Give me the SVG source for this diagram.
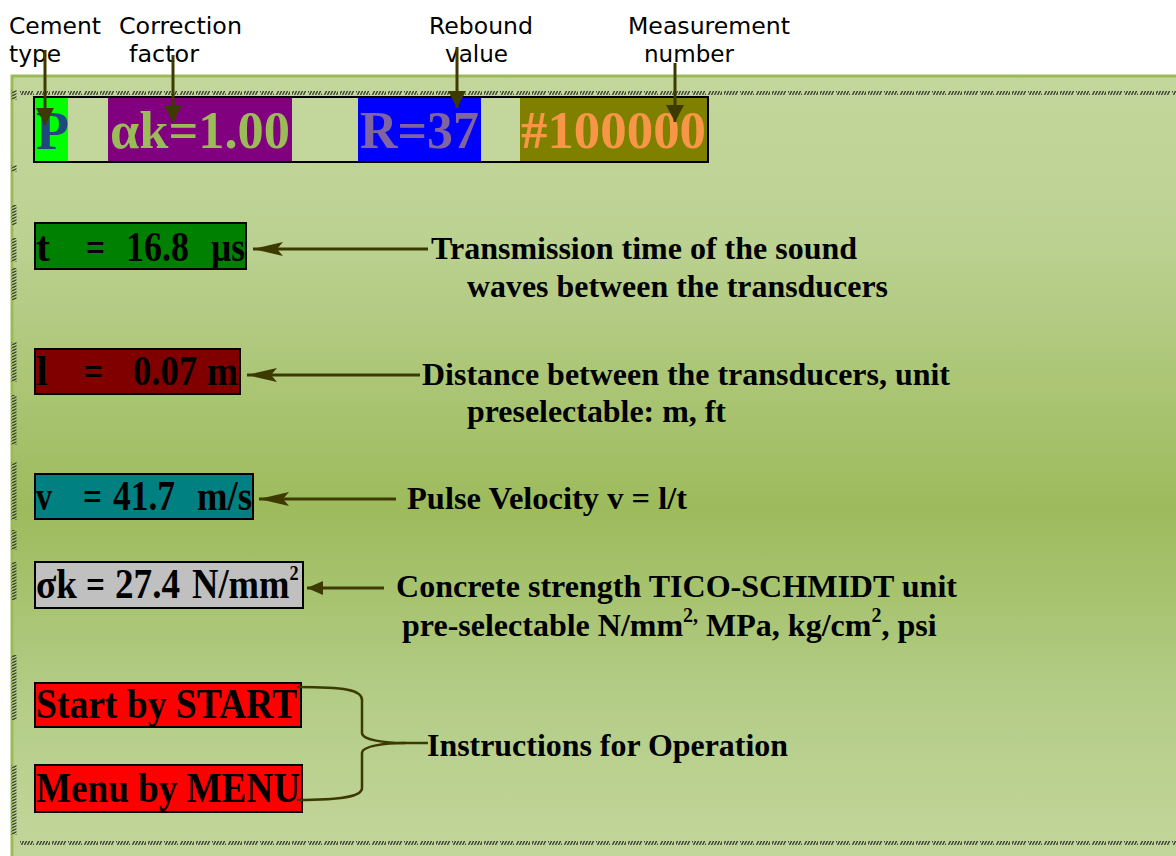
<svg xmlns="http://www.w3.org/2000/svg" width="1176" height="856" viewBox="0 0 1176 856">
<style>
.lbl{font-family:"DejaVu Sans","Verdana",sans-serif;font-size:23px;fill:#000}
.big{font-family:"Liberation Serif","Times New Roman",serif;font-weight:bold;font-size:52px}
.val{font-family:"Liberation Serif","Times New Roman",serif;font-weight:bold;font-size:42px;fill:#000}
.desc{font-family:"Liberation Serif","Times New Roman",serif;font-weight:bold;font-size:32px;fill:#000}
.box{stroke:#000;stroke-width:2}
.con{stroke:#3d3a00;stroke-width:3;fill:none}
.hatchH{stroke:url(#hatch);stroke-width:4;stroke-dasharray:14 2}
.hatchV{stroke:url(#hatchv);stroke-width:5}
</style>
<defs>
<linearGradient id="bg" x1="0" y1="0" x2="0" y2="1">
<stop offset="0" stop-color="#c3d69b"/>
<stop offset="0.2" stop-color="#bcd293"/>
<stop offset="0.55" stop-color="#9dbb5c"/>
<stop offset="0.8" stop-color="#b4cd88"/>
<stop offset="1" stop-color="#c3d69b"/>
</linearGradient>
<pattern id="hatch" width="3" height="6" patternUnits="userSpaceOnUse">
<line x1="0" y1="6" x2="3" y2="0" stroke="#3a3d33" stroke-width="1.3"/>
</pattern>
<pattern id="hatchv" width="6" height="3" patternUnits="userSpaceOnUse">
<line x1="0" y1="3" x2="6" y2="0" stroke="#3a3d33" stroke-width="1.2"/>
</pattern>
<marker id="ahV" viewBox="0 0 17 18" refX="17" refY="9" markerWidth="17" markerHeight="18" markerUnits="userSpaceOnUse" orient="auto">
<path d="M0,0 L17,9 L0,18 Z" fill="#3d3a00"/>
</marker>
<marker id="ahL" viewBox="0 0 30 14" refX="30" refY="7" markerWidth="30" markerHeight="14" markerUnits="userSpaceOnUse" orient="auto">
<path d="M0,0 L30,7 L0,14 L6,7 Z" fill="#3d3a00"/>
</marker>
<marker id="ahS" viewBox="0 0 16 14" refX="16" refY="7" markerWidth="16" markerHeight="14" markerUnits="userSpaceOnUse" orient="auto">
<path d="M0,0 L16,7 L0,14 Z" fill="#3d3a00"/>
</marker>
</defs>

<g id="panel">
<rect x="12" y="76" width="1172" height="786" fill="url(#bg)" stroke="#9bbb59" stroke-width="3"/>
<line class="hatchH" x1="20" y1="93" x2="1176" y2="93"/>
<line class="hatchH" x1="20" y1="843" x2="1176" y2="843"/>
<g class="hatchV">
<line x1="14" y1="90" x2="14" y2="100"/>
<line x1="14" y1="165" x2="14" y2="172"/>
<line x1="14" y1="205" x2="14" y2="225"/>
<line x1="14" y1="238" x2="14" y2="262"/>
<line x1="14" y1="268" x2="14" y2="300"/>
<line x1="14" y1="342" x2="14" y2="382"/>
<line x1="14" y1="395" x2="14" y2="445"/>
<line x1="14" y1="462" x2="14" y2="520"/>
<line x1="14" y1="530" x2="14" y2="550"/>
<line x1="14" y1="562" x2="14" y2="600"/>
<line x1="14" y1="655" x2="14" y2="720"/>
<line x1="14" y1="765" x2="14" y2="835"/>
</g>
</g>

<g id="label-cement">
<text class="lbl" x="9" y="34" textLength="92" lengthAdjust="spacingAndGlyphs">Cement</text>
<text class="lbl" x="9" y="62" textLength="52" lengthAdjust="spacingAndGlyphs">type</text>
</g>
<g id="label-correction">
<text class="lbl" x="119" y="34" textLength="123" lengthAdjust="spacingAndGlyphs">Correction</text>
<text class="lbl" x="129" y="62" textLength="70" lengthAdjust="spacingAndGlyphs">factor</text>
</g>
<g id="label-rebound">
<text class="lbl" x="429" y="34" textLength="104" lengthAdjust="spacingAndGlyphs">Rebound</text>
<text class="lbl" x="445" y="62" textLength="63" lengthAdjust="spacingAndGlyphs">value</text>
</g>
<g id="label-measurement">
<text class="lbl" x="628" y="34" textLength="162" lengthAdjust="spacingAndGlyphs">Measurement</text>
<text class="lbl" x="644" y="62" textLength="90" lengthAdjust="spacingAndGlyphs">number</text>
</g>

<g id="top-display">
<rect x="34" y="97" width="674" height="65" fill="#c3d69b" class="box"/>
<rect x="35" y="98" width="33" height="63" fill="#00ff00"/>
<rect x="108" y="98" width="184" height="63" fill="#800080"/>
<rect x="358" y="98" width="123" height="63" fill="#0000ff"/>
<rect x="520" y="98" width="187" height="63" fill="#808000"/>
<text class="big" x="36" y="149" fill="#1f497d" style="font-size:54px">P</text>
<text class="big" x="110" y="148" fill="#9bbb59" textLength="180" lengthAdjust="spacingAndGlyphs">αk=1.00</text>
<text class="big" x="360" y="148" fill="#8064a2" textLength="119" lengthAdjust="spacingAndGlyphs">R=37</text>
<text class="big" x="521" y="148" fill="#f79646" textLength="185" lengthAdjust="spacingAndGlyphs">#100000</text>
</g>

<g id="node-t">
<rect x="35" y="223" width="211" height="46" fill="#008000" class="box"/>
<text class="val" x="36" y="261">t</text>
<text class="val" x="86" y="261" textLength="19" lengthAdjust="spacingAndGlyphs">=</text>
<text class="val" x="126" y="261" textLength="63" lengthAdjust="spacingAndGlyphs">16.8</text>
<text class="val" x="211" y="261" textLength="34" lengthAdjust="spacingAndGlyphs">µs</text>
</g>
<g id="node-l">
<rect x="35" y="349" width="205" height="45" fill="#800000" class="box"/>
<text class="val" x="36" y="385">l</text>
<text class="val" x="84" y="385" textLength="19" lengthAdjust="spacingAndGlyphs">=</text>
<text class="val" x="133" y="385" textLength="64" lengthAdjust="spacingAndGlyphs">0.07</text>
<text class="val" x="207" y="385" textLength="31" lengthAdjust="spacingAndGlyphs">m</text>
</g>
<g id="node-v">
<rect x="35" y="474" width="218" height="45" fill="#008080" class="box"/>
<text class="val" x="36" y="510" textLength="16" lengthAdjust="spacingAndGlyphs">v</text>
<text class="val" x="83" y="510" textLength="19" lengthAdjust="spacingAndGlyphs">=</text>
<text class="val" x="113" y="510" textLength="62" lengthAdjust="spacingAndGlyphs">41.7</text>
<text class="val" x="197" y="510" textLength="55" lengthAdjust="spacingAndGlyphs">m/s</text>
</g>
<g id="node-sigma">
<rect x="35" y="562" width="268" height="46" fill="#c0c0c0" class="box"/>
<text class="val" x="36" y="598" textLength="41" lengthAdjust="spacingAndGlyphs">σk</text>
<text class="val" x="86" y="598" textLength="19" lengthAdjust="spacingAndGlyphs">=</text>
<text class="val" x="115" y="598" textLength="65" lengthAdjust="spacingAndGlyphs">27.4</text>
<text class="val" transform="translate(192,598) scale(0.87,1)" x="0" y="0">N/mm<tspan dy="-18" style="font-size:21px">2</tspan></text>
</g>
<g id="node-start">
<rect x="35" y="683" width="266" height="44" fill="#ff0000" class="box"/>
<text class="val" x="36" y="718" textLength="261" lengthAdjust="spacingAndGlyphs">Start by START</text>
</g>
<g id="node-menu">
<rect x="35" y="765" width="267" height="47" fill="#ff0000" class="box"/>
<text class="val" x="36" y="802" textLength="264" lengthAdjust="spacingAndGlyphs">Menu by MENU</text>
</g>

<g id="desc-t">
<text class="desc" x="431" y="259" textLength="426" lengthAdjust="spacingAndGlyphs">Transmission time of the sound</text>
<text class="desc" x="467" y="297" textLength="421" lengthAdjust="spacingAndGlyphs">waves between the transducers</text>
</g>
<g id="desc-l">
<text class="desc" x="422" y="385" textLength="528" lengthAdjust="spacingAndGlyphs">Distance between the transducers, unit</text>
<text class="desc" x="467" y="422" textLength="259" lengthAdjust="spacingAndGlyphs">preselectable: m, ft</text>
</g>
<g id="desc-v">
<text class="desc" x="407" y="509" textLength="280" lengthAdjust="spacingAndGlyphs">Pulse Velocity v = l/t</text>
</g>
<g id="desc-sigma">
<text class="desc" x="396" y="597" textLength="561" lengthAdjust="spacingAndGlyphs">Concrete strength TICO-SCHMIDT unit</text>
<text class="desc" x="402" y="636">pre-selectable N/mm<tspan dy="-14" style="font-size:20px">2,</tspan><tspan dy="14"> MPa, kg/cm</tspan><tspan dy="-14" style="font-size:20px">2</tspan><tspan dy="14">, psi</tspan></text>
</g>
<g id="desc-instr">
<text class="desc" x="427" y="756" textLength="361" lengthAdjust="spacingAndGlyphs">Instructions for Operation</text>
</g>

<g id="connectors">
<line class="con" x1="45" y1="50" x2="45" y2="125" marker-end="url(#ahV)"/>
<line class="con" x1="173" y1="55" x2="173" y2="122" marker-end="url(#ahV)"/>
<line class="con" x1="457" y1="47" x2="457" y2="108" marker-end="url(#ahV)"/>
<line class="con" x1="675" y1="63" x2="675" y2="122" marker-end="url(#ahV)"/>
<line class="con" x1="428" y1="249" x2="253" y2="249" marker-end="url(#ahL)"/>
<line class="con" x1="420" y1="375" x2="247" y2="375" marker-end="url(#ahL)"/>
<line class="con" x1="396" y1="499" x2="259" y2="499" marker-end="url(#ahL)"/>
<line class="con" x1="384" y1="588" x2="307" y2="588" marker-end="url(#ahS)"/>
<path class="con" style="stroke-width:2.5" d="M297,687 C345,687 362,690 362,700 L362,733 C362,740 385,743 405,743 L428,743"/>
<path class="con" style="stroke-width:2.5" d="M297,800 C345,800 362,796 362,788 L362,753 C362,746 385,743 405,743"/>
</g>
</svg>
